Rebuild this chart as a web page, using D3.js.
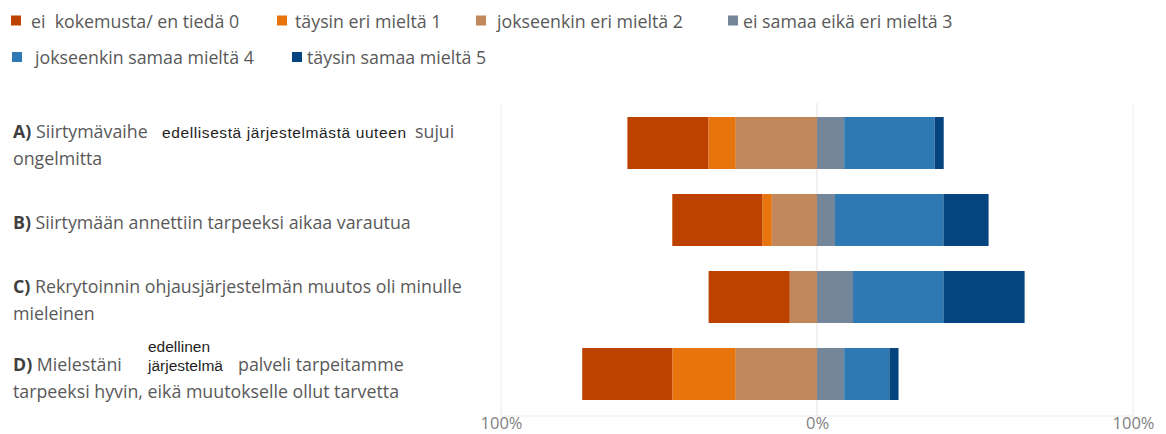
<!DOCTYPE html>
<html>
<head>
<meta charset="utf-8">
<script src="https://cdn.jsdelivr.net/npm/d3@7"></script>
<style>
  body { margin: 0; background: #fff; }
  svg { display: block; }
  text { white-space: pre; }
</style>
</head>
<body>
<svg id="chart" width="1166" height="434"></svg>
<script>
// Questions (rows, top to bottom)
const questions = ["A", "B", "C", "D"];

// Response categories
const seriesNames = [
  "ei  kokemusta/ en tiedä 0",
  "täysin eri mieltä 1",
  "jokseenkin eri mieltä 2",
  "ei samaa eikä eri mieltä 3",
  "jokseenkin samaa mieltä 4",
  "täysin samaa mieltä 5"
];
const seriesColors = ["#bd4200", "#e8740e", "#c1885c", "#74869a", "#2e79b4", "#06447f"];

// Share of respondents (%) per question A–D
const eiKokemusta0     = [25.7, 28.6, 25.7, 28.6];
const taysinEri1       = [ 8.6,  2.9,  0.0, 20.0];
const jokseenkinEri2   = [25.7, 14.3,  8.6, 25.7];
const eiSamaaEikaEri3  = [ 8.6,  5.7, 11.4,  8.6];
const jokseenkinSamaa4 = [28.6, 34.3, 28.6, 14.3];
const taysinSamaa5     = [ 2.9, 14.3, 25.7,  2.9];

const seriesValues = [eiKokemusta0, taysinEri1, jokseenkinEri2,
                      eiSamaaEikaEri3, jokseenkinSamaa4, taysinSamaa5];

// Axis ticks
const tickValues = [-100, 0, 100];
const tickLabels = ["100%", "0%", "100%"];

const svg = d3.select("#chart");
const mainFont = "'Open Sans', 'Noto Sans', sans-serif";
const insetFont = "'Liberation Sans', Arial, sans-serif";
const textGray = "#595959";
const mainSize = 17.8;
const insetSize = 15.5;

const x = d3.scaleLinear().domain([-100, 100]).range([501, 1133]);
const y = d3.scaleBand().domain(questions).range([104.5, 412.5])
  .paddingInner(0.325).paddingOuter(0.1625);

// Plot frame and zero line
svg.append("path")
  .attr("d", `M${x(-100)},${y.range()[0]}V416H${x(100)}V${y.range()[0]}`)
  .attr("fill", "none").attr("stroke", "#ececec").attr("stroke-width", 1);
svg.append("line")
  .attr("x1", x(0)).attr("x2", x(0)).attr("y1", 103).attr("y2", 416)
  .attr("stroke", "#e2e2e2").attr("stroke-width", 1);

// Diverging stacks: categories 0–2 to the left of zero (2 nearest), 3–5 to the right
const segments = [];
questions.forEach((q, qi) => {
  let left = -(seriesValues[0][qi] + seriesValues[1][qi] + seriesValues[2][qi]);
  for (let s = 0; s < 3; s++) {
    const v = seriesValues[s][qi];
    segments.push({ q, s, x0: left, x1: left + v });
    left += v;
  }
  let right = 0;
  for (let s = 3; s < 6; s++) {
    const v = seriesValues[s][qi];
    segments.push({ q, s, x0: right, x1: right + v });
    right += v;
  }
});

svg.append("g").selectAll("rect")
  .data(segments.filter(d => d.x1 > d.x0))
  .join("rect")
  .attr("x", d => x(d.x0))
  .attr("width", d => x(d.x1) - x(d.x0))
  .attr("y", d => y(d.q))
  .attr("height", y.bandwidth())
  .attr("fill", d => seriesColors[d.s]);

// Bottom axis labels
const axis = d3.axisBottom(x).tickValues(tickValues)
  .tickFormat((d, i) => tickLabels[i]).tickSize(0).tickPadding(0);
const axisG = svg.append("g").attr("transform", "translate(0,416)").call(axis);
axisG.select(".domain").remove();
axisG.selectAll("text")
  .attr("font-family", mainFont).attr("font-size", 16.5)
  .attr("fill", "#7f7f7f").attr("dy", "0.8em");

// Legend
const legendPos = [
  { x: 11, ty: 27.5, tx: 31 },
  { x: 277, ty: 27.5, tx: 295 },
  { x: 476, ty: 27.5, tx: 497 },
  { x: 728, ty: 27.5, tx: 743 },
  { x: 12, ty: 64, tx: 35 },
  { x: 292, ty: 64, tx: 307 }
];
const legend = svg.append("g").selectAll("g").data(seriesNames).join("g");
legend.append("rect")
  .attr("x", (d, i) => legendPos[i].x)
  .attr("y", (d, i) => legendPos[i].ty - 12)
  .attr("width", 10).attr("height", 10)
  .attr("fill", (d, i) => seriesColors[i]);
legend.append("text")
  .attr("x", (d, i) => legendPos[i].tx)
  .attr("y", (d, i) => legendPos[i].ty)
  .attr("font-family", mainFont).attr("font-size", mainSize)
  .attr("fill", textGray)
  .text(d => d);

// Question labels
const labelX = 13;
const lineH = 27;
const labels = svg.append("g").attr("font-family", mainFont)
  .attr("font-size", mainSize).attr("fill", textGray);

function bandMid(q) { return y(q) + y.bandwidth() / 2; }
function prefix(t, letter) {
  t.append("tspan").attr("font-weight", 700).attr("fill", "#3f3f3f").text(letter);
}
function inset(x0, y0, str, spacing) {
  return labels.append("text").attr("x", x0).attr("y", y0)
    .attr("font-family", insetFont).attr("font-size", insetSize)
    .attr("letter-spacing", spacing || 0)
    .attr("fill", "#1e1e1e").text(str);
}

// A
{
  const b = bandMid("A") - 5;
  const t = labels.append("text").attr("x", labelX).attr("y", b);
  prefix(t, "A)");
  t.append("tspan").text(" Siirtymävaihe");
  inset(162, b, "edellisestä järjestelmästä uuteen", 0.6);
  labels.append("text").attr("x", 415).attr("y", b).text("sujui");
  labels.append("text").attr("x", labelX).attr("y", b + lineH).text("ongelmitta");
}
// B
{
  const b = bandMid("B") + 9;
  const t = labels.append("text").attr("x", labelX).attr("y", b);
  prefix(t, "B)");
  t.append("tspan").text(" Siirtymään annettiin tarpeeksi aikaa varautua");
}
// C
{
  const b = bandMid("C") - 4;
  const t = labels.append("text").attr("x", labelX).attr("y", b);
  prefix(t, "C)");
  t.append("tspan").text(" Rekrytoinnin ohjausjärjestelmän muutos oli minulle");
  labels.append("text").attr("x", labelX).attr("y", b + lineH).text("mieleinen");
}
// D
{
  const b = bandMid("D") - 3;
  const t = labels.append("text").attr("x", labelX).attr("y", b);
  prefix(t, "D)");
  t.append("tspan").text(" Mielestäni");
  inset(148, b - 19, "edellinen");
  inset(148, b, "järjestelmä");
  labels.append("text").attr("x", 238).attr("y", b).text("palveli tarpeitamme");
  labels.append("text").attr("x", labelX).attr("y", b + lineH)
    .text("tarpeeksi hyvin, eikä muutokselle ollut tarvetta");
}
</script>
</body>
</html>
